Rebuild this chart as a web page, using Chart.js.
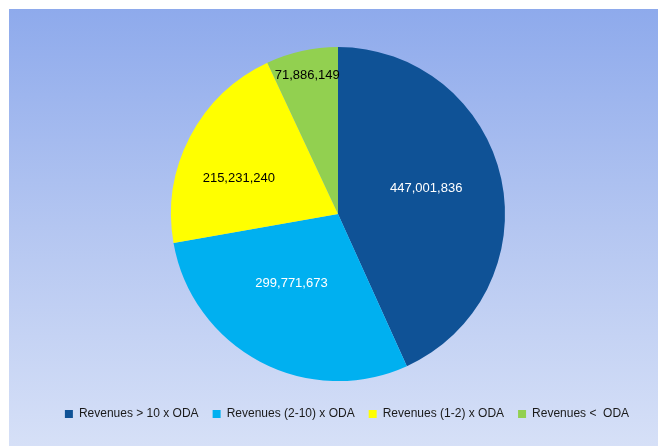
<!DOCTYPE html>
<html>
<head>
<meta charset="utf-8">
<script src="https://cdn.jsdelivr.net/npm/chart.js@4"></script>
<style>
  html, body { margin: 0; padding: 0; background: #fff; }
  #wrap { position: relative; width: 658px; height: 446px; }
  #bg {
    position: absolute; left: 9px; top: 9px; right: 0; bottom: 0;
    background: linear-gradient(to bottom, #8eaaec 0%, #b4c6f1 50%, #d6e0f7 100%);
  }
  #pie { position: absolute; left: 0; top: 0; }
</style>
</head>
<body>
<div id="wrap">
  <div id="bg"></div>
  <canvas id="pie" width="658" height="446"></canvas>
</div>
<script>
const categories = [
  "Revenues > 10 x ODA",
  "Revenues (2-10) x ODA",
  "Revenues (1-2) x ODA",
  "Revenues <  ODA"
]
const revenues = [447001836, 299771673, 215231240, 71886149]
const sliceColors = ["#0f5296", "#00b0f0", "#ffff00", "#92d050"]
const labelColors = ["#ffffff", "#ffffff", "#000000", "#000000"]

// where each value label sits: fraction of the radius, and a nudge off the mid angle (deg)
const labelSpots = [
  { r: 0.55, turn: -4 },
  { r: 0.50, turn: 6 },
  { r: 0.63, turn: -8 },
  { r: 0.85, turn: 0 }
]

const valueLabels = {
  id: "valueLabels",
  afterDatasetsDraw(chart) {
    const ctx = chart.ctx
    const arcs = chart.getDatasetMeta(0).data
    ctx.save()
    ctx.font = "13px 'Liberation Sans', Arial, sans-serif"
    ctx.textAlign = "center"
    ctx.textBaseline = "middle"
    arcs.forEach((arc, i) => {
      const p = arc.getProps(["x", "y", "startAngle", "endAngle", "outerRadius"], true)
      const mid = (p.startAngle + p.endAngle) / 2 + labelSpots[i].turn * Math.PI / 180
      const r = p.outerRadius * labelSpots[i].r
      ctx.fillStyle = labelColors[i]
      ctx.fillText(revenues[i].toLocaleString("en-US"), p.x + Math.cos(mid) * r, p.y + Math.sin(mid) * r)
    })
    ctx.restore()
  }
}

// the legend row sits a little right of the pie's centre line
const legendShift = {
  id: "legendShift",
  afterLayout(chart) {
    chart.legend.left += 9
    chart.legend.right += 9
  }
}

new Chart(document.getElementById("pie"), {
  type: "pie",
  data: {
    labels: categories,
    datasets: [{
      data: revenues,
      backgroundColor: sliceColors,
      borderWidth: 0,
      radius: 167
    }]
  },
  options: {
    responsive: false,
    animation: false,
    layout: { padding: { left: 18, right: 0, top: 34, bottom: 16 } },
    plugins: {
      tooltip: { enabled: false },
      legend: {
        position: "bottom",
        labels: {
          boxWidth: 8,
          boxHeight: 8,
          padding: 14,
          color: "#1a1a1a",
          font: { family: "'Liberation Sans', Arial, sans-serif", size: 12 }
        }
      }
    }
  },
  plugins: [valueLabels, legendShift]
})
</script>
</body>
</html>
